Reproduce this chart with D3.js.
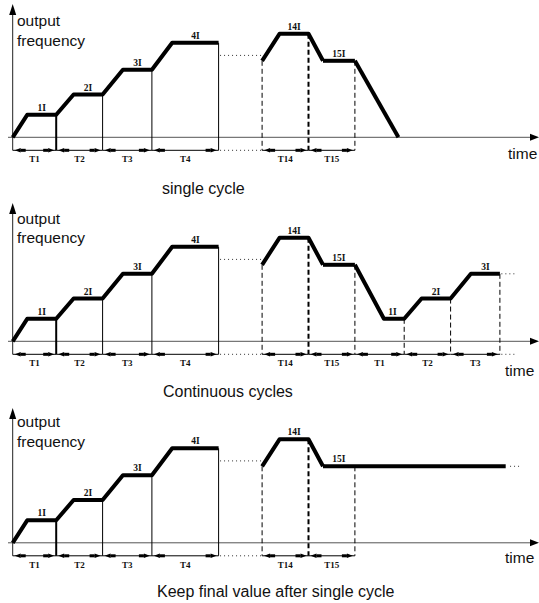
<!DOCTYPE html>
<html>
<head>
<meta charset="utf-8">
<script src="https://cdn.jsdelivr.net/npm/d3@7"></script>
<style>
html,body{margin:0;padding:0;background:#fff;}
svg{display:block;}
</style>
</head>
<body>
<script>
// ---- data (time units, frequency units) ----
const rampUpT = [0, 5, 15, 21, 31, 38, 48, 55, 71];
const rampUpF = [0, 10, 10, 19, 19, 30, 30, 42, 42];
const midT = [86, 92, 102, 107, 118];
const midF = [34, 46, 46, 34, 34];
const stopT = [118, 133];
const stopF = [34, 0];
const repeatT = [118, 128, 135, 141, 151, 158, 168];
const repeatF = [34, 10, 10, 19, 19, 30, 30];
const holdT = [107, 170];
const holdF = [34, 34];

const stepNames = ["1I", "2I", "3I", "4I", "14I", "15I"];
const stepMidT = [10, 26, 43, 63, 97, 112.5];
const stepF = [10, 19, 30, 42, 46, 34];
const repeatNames = ["1I", "2I", "3I"];
const repeatMidT = [131, 146, 163];
const repeatLevelF = [10, 19, 30];

const solidT = [15, 31, 48, 71];
const solidF = [10, 19, 30, 42];
const dashedT = [86, 102, 118];
const dashedF = [34, 46, 34];
const repeatDashedT = [135, 151, 168];
const repeatDashedF = [10, 19, 30];

const spanNames = ["T1", "T2", "T3", "T4", "T14", "T15"];
const spanStart = [0, 15, 31, 48, 86, 102];
const spanEnd = [15, 31, 48, 71, 102, 118];
const repeatSpanNames = ["T1", "T2", "T3"];
const repeatSpanStart = [118, 135, 151];
const repeatSpanEnd = [135, 151, 168];

const gapStart = 71, gapEnd = 86, gapF = 36.4;

const titles = ["single cycle", "Continuous cycles", "Keep final value after single cycle"];

// ---- layout ----
const W = 539, H = 603;
const panelOffsets = [0, 204, 405.5];
const arrowTips = [4, 203, 408];
const outputBase = [26, 224, 427];
const freqBase = [45.5, 243, 446.5];
const timeBase = [159, 376, 563];
const timeX = [508, 505, 505];
const titleX = [162, 163, 157];
const titleY = [194, 397, 597];

const svg = d3.select("body").append("svg").attr("width", W).attr("height", H);
const x = d3.scaleLinear().domain([0, 100]).range([12.7, 302.7]);
const line = d3.line();
const FONT = "'Liberation Sans', Arial, sans-serif";
const SERIF = "'Liberation Serif', 'Times New Roman', serif";

function zip(ts, fs, y) { return ts.map((t, i) => [x(t), y(fs[i])]); }

panelOffsets.forEach((off, p) => {
  const base = 137.3 + off;
  const y = d3.scaleLinear().domain([0, 10]).range([base, base - 22.5]);
  const trow = base + 13;
  const g = svg.append("g");

  // x axis
  g.append("line").attr("x1", 8).attr("x2", 532).attr("y1", base).attr("y2", base)
    .attr("stroke", "#555").attr("stroke-width", 1);
  g.append("path").attr("d", `M530,${base - 3.5}L539,${base}L530,${base + 3.5}Z`).attr("fill", "#000");
  // y axis
  const axX = x(0);
  g.append("line").attr("x1", axX).attr("x2", axX).attr("y1", arrowTips[p] + 6).attr("y2", trow)
    .attr("stroke", "#222").attr("stroke-width", 1);
  g.append("path").attr("d", `M${axX},${arrowTips[p]}L${axX + 3.5},${arrowTips[p] + 11}L${axX - 3.5},${arrowTips[p] + 11}Z`).attr("fill", "#000");

  // axis texts
  g.append("text").attr("x", 17).attr("y", outputBase[p]).text("output")
    .attr("font-family", FONT).attr("font-size", 15.5).attr("fill", "#111");
  g.append("text").attr("x", 17).attr("y", freqBase[p]).text("frequency")
    .attr("font-family", FONT).attr("font-size", 15.5).attr("fill", "#111");
  g.append("text").attr("x", timeX[p]).attr("y", timeBase[p]).text("time")
    .attr("font-family", FONT).attr("font-size", 15.5).attr("fill", "#111");
  g.append("text").attr("x", titleX[p]).attr("y", titleY[p]).text(titles[p])
    .attr("font-family", FONT).attr("font-size", 16).attr("fill", "#111");

  // solid verticals
  solidT.forEach((t, i) => {
    g.append("line").attr("x1", x(t)).attr("x2", x(t)).attr("y1", y(solidF[i])).attr("y2", trow)
      .attr("stroke", "#000").attr("stroke-width", i === 0 ? 2 : 1);
  });
  // dashed verticals
  const dT = p === 1 ? dashedT.concat(repeatDashedT) : dashedT;
  const dF = p === 1 ? dashedF.concat(repeatDashedF) : dashedF;
  dT.forEach((t, i) => {
    g.append("line").attr("x1", x(t)).attr("x2", x(t)).attr("y1", y(dF[i])).attr("y2", trow)
      .attr("stroke", "#000").attr("stroke-width", i === 1 ? 2 : 1).attr("stroke-dasharray", "5,3");
  });

  // dotted gap
  const dotted = (t0, t1, yy) => g.append("line").attr("x1", x(t0)).attr("x2", x(t1)).attr("y1", yy).attr("y2", yy)
    .attr("stroke", "#333").attr("stroke-width", 1).attr("stroke-dasharray", "1,3");
  dotted(gapStart + 0.5, gapEnd, y(gapF));
  dotted(gapStart + 0.5, gapEnd, trow);
  if (p === 1) { dotted(168.5, 174, y(30)); dotted(168.5, 174, trow); }
  if (p === 2) { dotted(171.5, 175.5, y(34)); }

  // time spans
  const sN = p === 1 ? spanNames.concat(repeatSpanNames) : spanNames;
  const sS = p === 1 ? spanStart.concat(repeatSpanStart) : spanStart;
  const sE = p === 1 ? spanEnd.concat(repeatSpanEnd) : spanEnd;
  sN.forEach((n, i) => {
    const a = x(sS[i]), b = x(sE[i]);
    g.append("line").attr("x1", a).attr("x2", b).attr("y1", trow).attr("y2", trow).attr("stroke", "#000").attr("stroke-width", 1);
    g.append("path").attr("d", `M${a + 2},${trow}L${a + 8},${trow - 2.2}L${a + 8},${trow + 2.2}Z`).attr("fill", "#000");
    g.append("rect").attr("x", a + 8).attr("y", trow - 1.5).attr("width", 5).attr("height", 3).attr("fill", "#000");
    g.append("path").attr("d", `M${b - 2},${trow}L${b - 8},${trow - 2.2}L${b - 8},${trow + 2.2}Z`).attr("fill", "#000");
    g.append("rect").attr("x", b - 13).attr("y", trow - 1.5).attr("width", 5).attr("height", 3).attr("fill", "#000");
    g.append("text").attr("x", (a + b) / 2).attr("y", base + 25).attr("text-anchor", "middle").text(n)
      .attr("font-family", SERIF).attr("font-weight", "bold").attr("font-size", 9).attr("fill", "#111");
  });

  // profile
  const prof = (ts, fs) => g.append("path").attr("d", line(zip(ts, fs, y))).attr("fill", "none")
    .attr("stroke", "#000").attr("stroke-width", 4).attr("stroke-linejoin", "round").attr("stroke-linecap", "butt");
  prof(rampUpT, rampUpF);
  prof(midT.slice(0, 4), midF.slice(0, 4));
  if (p === 0) { prof(midT.slice(3), midF.slice(3)); prof(stopT, stopF); }
  if (p === 1) { prof(midT.slice(3), midF.slice(3)); prof(repeatT, repeatF); }
  if (p === 2) { prof(holdT, holdF); }

  // step labels
  const lN = p === 1 ? stepNames.concat(repeatNames) : stepNames;
  const lT = p === 1 ? stepMidT.concat(repeatMidT) : stepMidT;
  const lF = p === 1 ? stepF.concat(repeatLevelF) : stepF;
  lN.forEach((n, i) => {
    g.append("text").attr("x", x(lT[i])).attr("y", y(lF[i]) - 4).attr("text-anchor", "middle").text(n)
      .attr("font-family", SERIF).attr("font-weight", "bold").attr("font-size", 9.5).attr("fill", "#111");
  });
});
</script>
</body>
</html>
